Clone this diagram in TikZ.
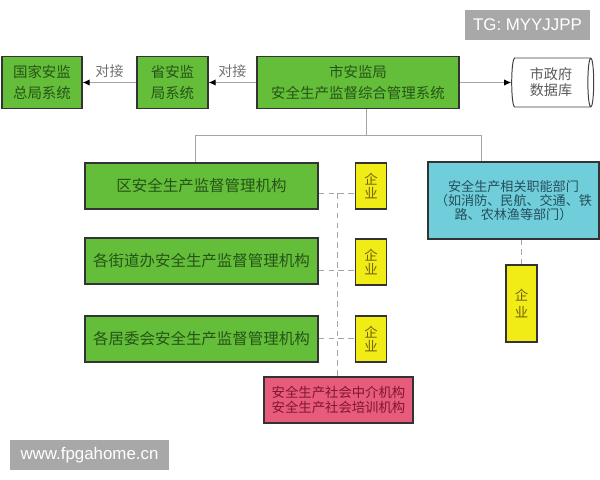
\documentclass[tikz,border=0pt]{standalone}
\usepackage{fontspec}
\newfontfamily\cjk{Noto Sans CJK SC}
\newfontfamily\wmfont{Liberation Sans}
\usetikzlibrary{shapes.geometric,arrows.meta}
\pgfdeclarelayer{bg}
\pgfsetlayers{bg,main}
\definecolor{jgreen}{RGB}{100,190,58}
\definecolor{jgreentxt}{RGB}{38,84,24}
\definecolor{jyellow}{RGB}{242,236,22}
\definecolor{jyellowtxt}{RGB}{110,96,10}
\definecolor{jcyan}{RGB}{112,206,218}
\definecolor{jcyantxt}{RGB}{36,78,92}
\definecolor{jpink}{RGB}{230,92,122}
\definecolor{jpinktxt}{RGB}{130,20,50}
\definecolor{jline}{RGB}{165,165,165}
\tikzset{
    box/.style={draw=black!80, line width=0.9pt, inner sep=0mm, align=center},
    gbox/.style={box, fill=jgreen, text=jgreentxt, font=\cjk\fontsize{10.3}{14.5}\selectfont},
    wide/.style={minimum width=5.825cm, minimum height=1.15cm, font=\cjk\fontsize{11}{14}\selectfont},
    qybox/.style={box, fill=jyellow, text=jyellowtxt, minimum width=0.775cm, minimum height=1.15cm, font=\cjk\fontsize{9.5}{10.5}\selectfont},
    cbox/.style={box, fill=jcyan, text=jcyantxt, minimum width=4.275cm, minimum height=1.925cm, font=\cjk\fontsize{9.3}{10.2}\selectfont},
    pbox/.style={box, fill=jpink, text=jpinktxt, minimum width=3.725cm, minimum height=1.15cm, font=\cjk\fontsize{9.5}{10.8}\selectfont},
    conn/.style={draw=jline, line width=0.7pt},
    dconn/.style={draw=jline, line width=0.7pt, dash pattern=on 4pt off 3pt},
    jtip/.style={-{Latex[length=5pt, width=4.5pt, color=black]}},
    duijie/.style={above, text=black!55, font=\cjk\fontsize{10}{12}\selectfont},
    wmark/.style={fill=black!34, text=white, minimum height=0.75cm, inner sep=0mm, font=\wmfont\fontsize{12}{14}\selectfont}
}
\begin{document}
\begin{tikzpicture}[x=0.025cm, y=-0.025cm]
    \useasboundingbox (0,0) rectangle (600,480);

    % top row
    \node (guojia) at (42,82.5) [gbox, minimum width=2.0cm, minimum height=1.3cm] {国家安监\\总局系统};
    \node (sheng) at (172.5,82.5) [gbox, minimum width=1.775cm, minimum height=1.3cm] {省安监\\局系统};
    \node (shi) at (358,82.5) [gbox, minimum width=5.05cm, minimum height=1.3cm] {市安监局\\安全生产监督综合管理系统};
    \node (shuju) at (551,82.5) [cylinder, draw=black!75, line width=0.7pt, shape aspect=0.2, minimum height=2.05cm, minimum width=1.225cm, inner sep=0mm, align=center, text=black!65, font=\cjk\fontsize{10}{11.5}\selectfont] {市政府\\数据库};

    % district level
    \node (qu) at (201.5,186) [gbox, wide] {区安全生产监督管理机构};
    \node (jiedao) at (201.5,261) [gbox, wide] {各街道办安全生产监督管理机构};
    \node (juwei) at (201.5,339) [gbox, wide] {各居委会安全生产监督管理机构};

    \node (qiye1) at (371,186) [qybox] {企\\业};
    \node (qiye2) at (371,262) [qybox] {企\\业};
    \node (qiye3) at (371,339) [qybox] {企\\业};

    \node (zhongjie) at (338.5,400) [pbox] {安全生产社会中介机构\\安全生产社会培训机构};
    \node (bumen) at (513.5,200.5) [cbox] {安全生产相关职能部门\\（如消防、民航、交通、铁\\路、农林渔等部门）};
    \node (qiye4) at (521.5,303.5) [qybox, minimum height=1.925cm, font=\cjk\fontsize{9.5}{12}\selectfont] {企\\业};

    \coordinate (fen) at (366,135);
    \coordinate (fl) at (195,135);
    \coordinate (fr) at (481,135);
    \coordinate (xu) at (337,193);
    \coordinate (xj) at (337,270);
    \coordinate (xw) at (337,338);

    \begin{pgfonlayer}{bg}
        \draw (sheng) edge [conn, jtip] node [duijie] {对接} (guojia);
        \draw (shi) edge [conn, jtip] node [duijie] {对接} (sheng);
        \draw (shi) edge [conn, jtip] (shuju);

        \draw [conn] (shi.south -| fen) -- (fen);
        \draw [conn] (qu.north -| fl) -- (fl) -- (fr) -- (bumen.north -| fr);

        \draw [dconn] (qu.east |- xu) -- (qiye1.west |- xu);
        \draw [dconn] (jiedao.east |- xj) -- (qiye2.west |- xj);
        \draw [dconn] (juwei.east |- xw) -- (qiye3.west |- xw);
        \draw [dconn] (xu) -- (zhongjie.north -| xu);
        \draw [dconn] (bumen.south -| qiye4.north) -- (qiye4.north);
    \end{pgfonlayer}

    % watermarks
    \node (tg) at (527.5,25) [wmark, minimum width=3.125cm] {TG: MYYJJPP};
    \node (site) at (89.5,455) [wmark, minimum width=3.975cm] {www.fpgahome.cn};
\end{tikzpicture}
\end{document}
